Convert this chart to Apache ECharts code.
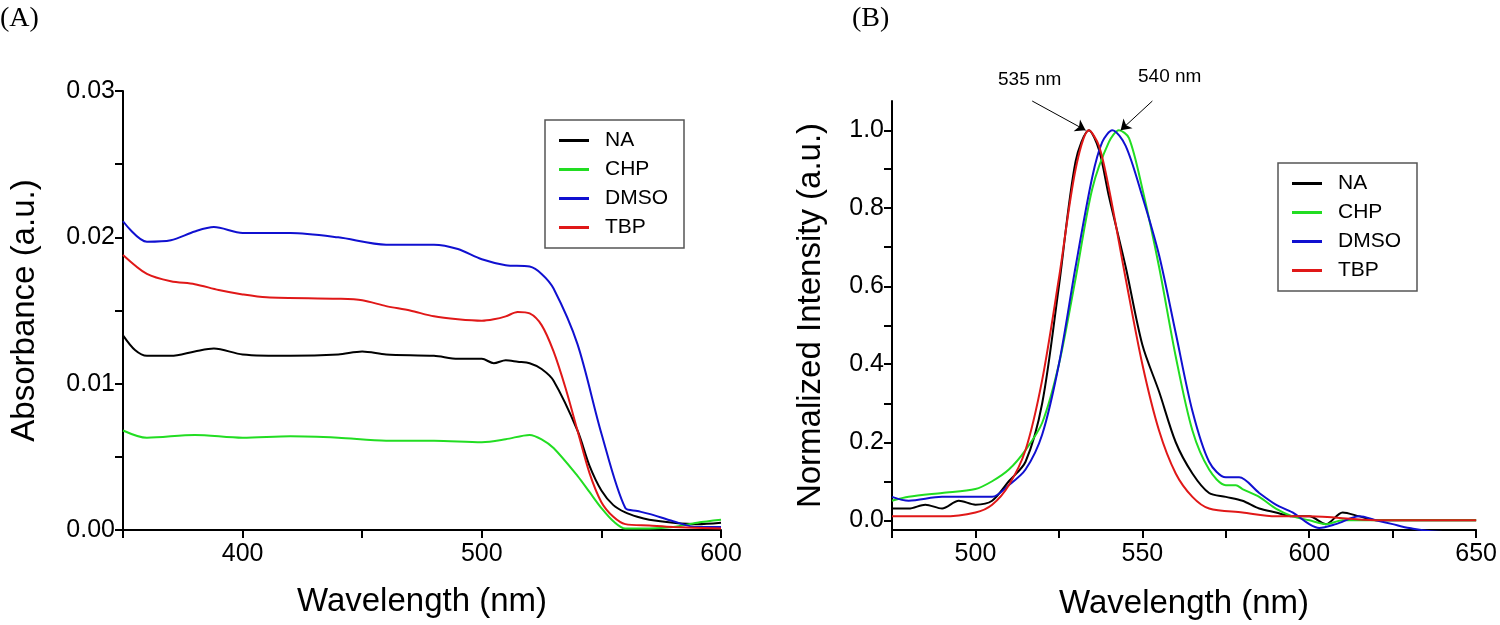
<!DOCTYPE html>
<html>
<head>
<meta charset="utf-8">
<script src="https://cdn.jsdelivr.net/npm/echarts@6/dist/echarts.min.js"></script>
<style>html,body{margin:0;padding:0;background:#fff}#main{width:1500px;height:625px}</style>
</head>
<body>
<div id="main"></div>
<script>
// Panel A: absorbance [wavelength, value]
var absNA = [[350,0.0133],[355,0.0123],[360,0.0119],[370,0.0119],[380,0.0122],[388,0.0124],[400,0.0120],[420,0.0119],[440,0.0120],[450,0.0122],[460,0.0120],[480,0.0119],[490,0.0117],[500,0.0117],[505,0.0114],[510,0.0116],[515,0.0115],[520,0.0114],[525,0.0110],[530,0.0102],[540,0.0068],[545,0.0044],[550,0.0027],[555,0.0017],[560,0.0012],[565,0.0009],[570,0.0007],[580,0.0005],[590,0.0004],[600,0.0005]];
var absCHP = [[350,0.0068],[360,0.0063],[380,0.0065],[400,0.0063],[420,0.0064],[440,0.0063],[460,0.0061],[480,0.0061],[500,0.0060],[510,0.0062],[520,0.0065],[525,0.0062],[530,0.0056],[540,0.0037],[545,0.0026],[550,0.0015],[555,0.0006],[560,0.0001],[570,0.0001],[580,0.0002],[590,0.0005],[600,0.0007]];
var absDMSO = [[350,0.0211],[360,0.0197],[370,0.0198],[380,0.0204],[388,0.0207],[400,0.0203],[420,0.0203],[440,0.0200],[460,0.0195],[480,0.0195],[490,0.0192],[500,0.0185],[510,0.0181],[520,0.0180],[525,0.0175],[530,0.0165],[540,0.0127],[550,0.0066],[560,0.0015],[565,0.0013],[570,0.0011],[580,0.0006],[590,0.0002],[600,0.0002]];
var absTBP = [[350,0.0188],[360,0.0175],[370,0.0170],[380,0.0168],[390,0.0164],[400,0.0161],[410,0.0159],[440,0.0158],[450,0.0157],[460,0.0153],[470,0.0150],[480,0.0146],[490,0.0144],[500,0.0143],[505,0.0144],[510,0.0146],[515,0.0149],[520,0.0148],[525,0.0140],[530,0.0122],[535,0.0097],[540,0.0068],[545,0.0039],[550,0.0019],[555,0.0009],[560,0.0004],[570,0.0003],[580,0.0002],[600,0.0001]];

// Panel B: normalized PL intensity
var plNA = [[475,0.03],[480,0.03],[485,0.04],[490,0.03],[495,0.05],[500,0.04],[505,0.05],[510,0.10],[515,0.15],[520,0.30],[525,0.60],[530,0.92],[534,1.0],[537,0.95],[540,0.83],[545,0.65],[550,0.45],[555,0.33],[560,0.20],[565,0.12],[570,0.07],[575,0.06],[580,0.05],[585,0.03],[590,0.02],[595,0.01],[600,0.01],[605,-0.01],[610,0.02],[615,0.01],[620,0.0],[630,0.0],[640,0.0],[650,0.0]];
var plCHP = [[475,0.05],[480,0.06],[490,0.07],[500,0.08],[505,0.10],[510,0.13],[515,0.18],[520,0.25],[525,0.40],[530,0.62],[535,0.85],[540,0.97],[543,1.0],[546,0.98],[550,0.85],[555,0.65],[560,0.42],[565,0.23],[570,0.13],[575,0.09],[578,0.09],[580,0.08],[585,0.06],[590,0.03],[595,0.01],[600,0.0],[605,-0.01],[610,0.0],[620,0.0],[650,0.0]];
var plDMSO = [[475,0.06],[480,0.05],[490,0.06],[500,0.06],[505,0.06],[510,0.09],[515,0.13],[520,0.22],[525,0.40],[530,0.65],[535,0.88],[538,0.97],[541,1.0],[545,0.96],[550,0.83],[555,0.68],[560,0.48],[565,0.28],[570,0.15],[575,0.11],[579,0.11],[585,0.07],[590,0.04],[595,0.02],[600,-0.01],[603,-0.02],[608,-0.01],[615,0.01],[620,0.0],[625,-0.01],[630,-0.02],[640,-0.03],[650,-0.03]];
var plTBP = [[475,0.01],[490,0.01],[500,0.02],[505,0.04],[510,0.09],[515,0.18],[520,0.36],[525,0.62],[530,0.90],[534,1.0],[537,0.96],[540,0.85],[545,0.62],[550,0.40],[555,0.23],[560,0.12],[565,0.06],[570,0.03],[580,0.02],[590,0.01],[600,0.01],[620,0.0],[650,0.0]];

var names = ['NA', 'CHP', 'DMSO', 'TBP'];
var colors = ['#000000', '#22dd22', '#1010d0', '#e01818'];
var ticksA = [0, 0.01, 0.02, 0.03];
var ticksAx = [400, 500, 600];
var ticksB = [0, 0.2, 0.4, 0.6, 0.8, 1.0];
var ticksBx = [500, 550, 600, 650];

var font = 'Liberation Sans';
var axisCommon = {
    axisLine: {onZero: false, lineStyle: {color: '#000', width: 2}},
    axisTick: {inside: false, length: 8, lineStyle: {color: '#000', width: 2}},
    splitLine: {show: false},
    axisLabel: {color: '#000', fontSize: 25, fontFamily: font},
    nameTextStyle: {color: '#000', fontSize: 33, fontFamily: font}
};
function ax(o) { return echarts.util.merge(echarts.util.clone(axisCommon), o, true); }

var legendCommon = {
    orient: 'vertical', data: names, backgroundColor: '#fff',
    borderColor: '#555', borderWidth: 1.5, borderRadius: 0,
    padding: [10, 16, 10, 14], itemGap: 8, itemWidth: 52, itemHeight: 3,
    icon: 'path://M0,0H10V1H0Z',
    textStyle: {fontSize: 21, fontFamily: font, color: '#000'}
};

var series = [];
[absNA, absCHP, absDMSO, absTBP].forEach(function (d, i) {
    series.push({name: names[i], type: 'line', xAxisIndex: 0, yAxisIndex: 0, data: d, smooth: 0.3, showSymbol: false, lineStyle: {width: 2, color: colors[i]}, itemStyle: {color: colors[i]}});
});
[plNA, plCHP, plDMSO, plTBP].forEach(function (d, i) {
    series.push({name: names[i], type: 'line', xAxisIndex: 1, yAxisIndex: 1, data: d, smooth: 0.3, showSymbol: false, lineStyle: {width: 2, color: colors[i]}, itemStyle: {color: colors[i]}});
});
// peak arrows
series[4].markLine = {silent: true, symbol: ['none', 'arrow'], symbolSize: 10, label: {show: false},
    lineStyle: {color: '#000', width: 1, type: 'solid'},
    data: [[{coord: [517, 1.075]}, {coord: [533, 1.0]}], [{coord: [553, 1.075]}, {coord: [543.5, 1.0]}]]};

var myChart = echarts.init(document.getElementById('main'));
var option = {
    animation: false,
    grid: [
        {left: 123, top: 91, width: 598, height: 439},
        {left: 892, top: 101, width: 590, height: 432}
    ],
    xAxis: [
        ax({gridIndex: 0, type: 'value', min: 350, max: 600, name: 'Wavelength (nm)', nameLocation: 'middle', nameGap: 55,
            axisLabel: {customValues: ticksAx, margin: 12}, axisTick: {customValues: [350, 400, 450, 500, 550, 600]}}),
        ax({gridIndex: 1, type: 'value', min: 475, max: 650, name: 'Wavelength (nm)', nameLocation: 'middle', nameGap: 57,
            axisLabel: {customValues: ticksBx, margin: 12}, axisTick: {customValues: [475, 500, 525, 550, 575, 600, 625, 650]}})
    ],
    yAxis: [
        ax({gridIndex: 0, type: 'value', min: 0, max: 0.03, name: 'Absorbance (a.u.)', nameLocation: 'middle', nameGap: 82,
            axisLabel: {customValues: ticksA, formatter: function (v) { return v.toFixed(2); }},
            axisTick: {customValues: [0, 0.005, 0.01, 0.015, 0.02, 0.025, 0.03]}}),
        ax({gridIndex: 1, type: 'value', min: -0.025, max: 1.075, name: 'Normalized Intensity (a.u.)', nameLocation: 'middle', nameGap: 65,
            axisLabel: {customValues: ticksB, formatter: function (v) { return v.toFixed(1); }},
            axisTick: {customValues: [0, 0.1, 0.2, 0.3, 0.4, 0.5, 0.6, 0.7, 0.8, 0.9, 1.0]}})
    ],
    legend: [
        echarts.util.extend({left: 545, top: 120}, legendCommon),
        echarts.util.extend({left: 1278, top: 163}, legendCommon)
    ],
    graphic: [
        {type: 'text', left: 0, top: 5, style: {text: '(A)', fontSize: 28, fontFamily: 'Liberation Serif', fill: '#000'}},
        {type: 'text', left: 852, top: 5, style: {text: '(B)', fontSize: 28, fontFamily: 'Liberation Serif', fill: '#000'}},
        {type: 'text', left: 998, top: 70, style: {text: '535 nm', fontSize: 19, fontFamily: font, fill: '#000'}},
        {type: 'text', left: 1138, top: 67, style: {text: '540 nm', fontSize: 19, fontFamily: font, fill: '#000'}}
    ],
    series: series
};
myChart.setOption(option);
</script>
</body>
</html>
